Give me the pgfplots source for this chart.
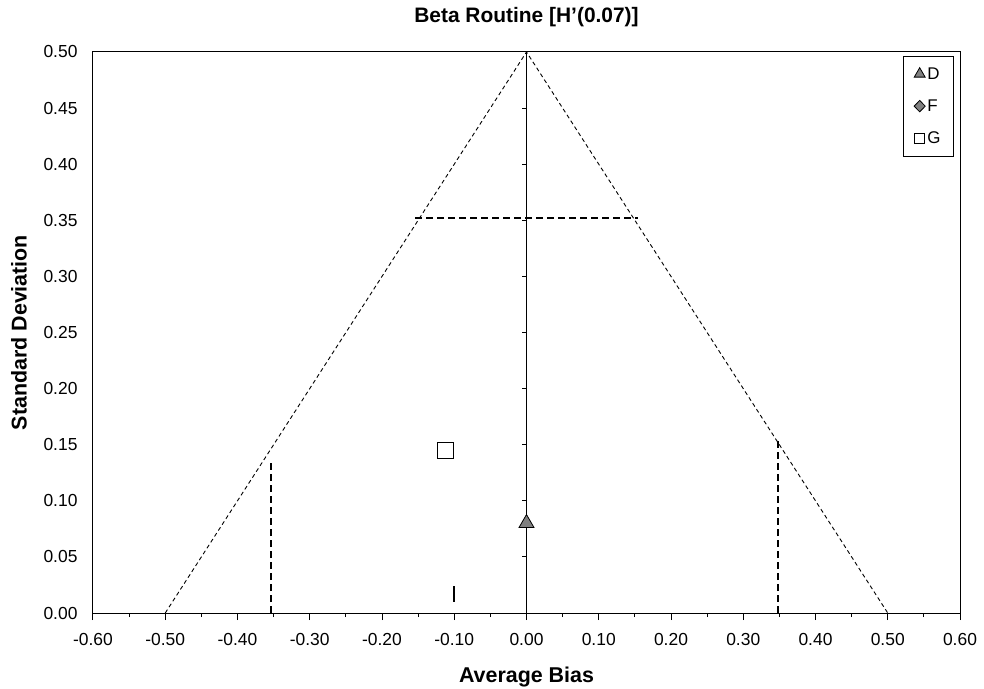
\documentclass[border=0pt]{standalone}
\usepackage{fontspec}
\setmainfont{Liberation Sans}
\usepackage{pgfplots}
\pgfplotsset{compat=1.18}
\definecolor{markgray}{RGB}{128,128,128}
\begin{document}
\begin{tikzpicture}
\useasboundingbox (-93bp,-76bp) rectangle (891bp,613bp);
\begin{axis}[
  at={(0,0)}, anchor=south west,
  scale only axis, width=867bp, height=561bp,
  xmin=-0.6, xmax=0.6, ymin=0, ymax=0.5,
  axis line style={line width=1bp},
  xtick={-0.6,-0.5,-0.4,-0.3,-0.2,-0.1,0,0.1,0.2,0.3,0.4,0.5,0.6},
  minor xtick={-0.55,-0.45,-0.35,-0.25,-0.15,-0.05,0.05,0.15,0.25,0.35,0.45,0.55},
  ytick={0,0.05,0.1,0.15,0.2,0.25,0.3,0.35,0.4,0.45,0.5},
  xtick pos=left, ytick pos=left,
  tick align=outside,
  major tick length=7bp, minor tick length=4bp,
  tick style={black, line width=1bp},
  ytick style={draw=none},
  /pgf/number format/.cd, fixed, fixed zerofill, precision=2, assume math mode=true,
  /pgfplots/.cd,
  ticklabel style={font=\fontsize{17.5}{17.5}\selectfont},
  xticklabel style={yshift=-10bp},
  yticklabel style={xshift=-5bp},
  title={Beta Routine [H'(0.07)]},
  title style={font=\bfseries\fontsize{21}{21}\selectfont, at={(0.5,1)}, anchor=base, yshift=24bp},
  xlabel={Average Bias},
  xlabel style={font=\bfseries\fontsize{21.5}{21.5}\selectfont, at={(0.5,0)}, anchor=base, yshift=-69.5bp},
  ylabel={Standard Deviation},
  ylabel style={font=\bfseries\fontsize{21.5}{21.5}\selectfont, at={(0,0.5)}, anchor=center, yshift=74bp},
  legend style={at={(0.993,0.993)}, anchor=north east, draw=black, line width=1bp,
    nodes={font=\fontsize{17}{17}\selectfont, inner sep=2bp},
    row sep=15bp, inner xsep=11bp, inner ysep=9bp,
    /tikz/every even column/.append style={column sep=1bp}},
  legend cell align=left,
  legend image code/.code={\draw[#1] plot coordinates {(0bp,0bp)};},
]
% funnel
\addplot[black, line width=0.9bp, dash pattern=on 4bp off 3bp, forget plot] coordinates {(-0.5,0) (0,0.5) (0.5,0)};
% limits
\addplot[black, line width=2bp, dash pattern=on 7bp off 4bp, forget plot] coordinates {(-0.154,0.352) (0.155,0.352)};
\addplot[black, line width=2bp, dash pattern=on 7bp off 4bp, forget plot] coordinates {(-0.353,0) (-0.353,0.136)};
\addplot[black, line width=2bp, dash pattern=on 7bp off 4bp, forget plot] coordinates {(0.348,0) (0.348,0.156)};
% zero axis
\addplot[black, line width=1bp, forget plot] coordinates {(0,0) (0,0.5)};
\pgfplotsinvokeforeach{0.05,0.1,0.15,0.2,0.25,0.3,0.35,0.4,0.45}{
  \draw[black, line width=1bp] (axis cs:0,#1) -- ([xshift=-5bp]axis cs:0,#1);
}
% I mark
\addplot[black, line width=2bp, forget plot] coordinates {(-0.1,0.01) (-0.1,0.024)};
% points
\addplot[only marks, mark=triangle*, mark size=8.7bp, mark options={fill=markgray, draw=black, line width=0.8bp}, forget plot] coordinates {(0,0.08)};
\addplot[only marks, mark=square, mark size=7.8bp, mark options={draw=black, fill=white, line width=0.8bp}, forget plot] coordinates {(-0.112,0.145)};
% legend
\addlegendimage{only marks, mark=triangle*, mark size=6.3bp, mark options={fill=markgray, draw=black, line width=0.8bp}}
\addlegendentry{D}
\addlegendimage{only marks, mark=diamond*, mark size=5.7bp, mark options={fill=markgray, draw=black, line width=0.8bp, xscale=1.3}}
\addlegendentry{F}
\addlegendimage{only marks, mark=square, mark size=5bp, mark options={fill=white, draw=black, line width=0.8bp}}
\addlegendentry{G}
\end{axis}
\end{tikzpicture}
\end{document}
